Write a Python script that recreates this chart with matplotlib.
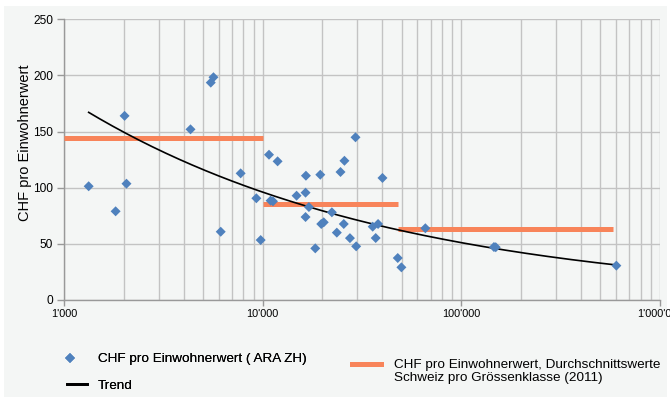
import numpy as np
import matplotlib
matplotlib.use("Agg")
import matplotlib.pyplot as plt
from matplotlib.lines import Line2D
from matplotlib.patches import Rectangle
from matplotlib.ticker import FuncFormatter, LogLocator

plt.rcParams['font.family'] = ['Liberation Sans', 'DejaVu Sans']

# Data: population equivalents (Einwohnerwerte) vs. CHF per EW
ew = [1331, 1819, 2018, 2063, 4333, 5480, 5654, 6150, 7748, 9295, 9772,
      10762, 10965, 11270, 11890, 14815, 16510, 16440, 17090, 16440, 18400,
      19500, 19720, 20300, 22300, 23620, 24650, 25800, 25600, 27500, 29330,
      29560, 35800, 38100, 37070, 40090, 47860, 49930, 65900, 145900, 149000,
      603000]
chf = [101.3, 79.0, 164.0, 103.6, 152.0, 193.6, 198.4, 60.8, 112.8, 90.6, 53.4,
       129.4, 88.5, 87.9, 123.5, 92.9, 110.7, 95.6, 82.8, 73.9, 46.0,
       111.6, 67.7, 69.2, 78.1, 60.0, 114.0, 124.0, 67.7, 55.1, 144.9,
       47.8, 65.3, 67.7, 55.2, 108.7, 37.4, 29.1, 63.9, 47.2, 47.0,
       30.6]

# Swiss averages per size class (2011)
class_start = [1000, 10000, 48000]
class_end = [10000, 48000, 580000]
class_value = [144.6, 85.8, 63.5]

# Power trend y = a * x^b
trend_a = 1204.0
trend_b = -0.2745

xticks = [1000, 10000, 100000, 1000000]
yticks = [0, 50, 100, 150, 200, 250]

label_pts = "CHF pro Einwohnerwert ( ARA ZH)"
label_trend = "Trend"
label_avg1 = "CHF pro Einwohnerwert, Durchschnittswerte"
label_avg2 = "Schweiz pro Grössenklasse (2011)"
ylabel = "CHF pro Einwohnerwert"

bg = '#f4f6f5'
blue = '#4f81bd'
orange = '#f8845a'
grid = '#c3c3c3'

W, H = 670, 403
fig = plt.figure(figsize=(W / 100, H / 100), dpi=100)
fig.patch.set_facecolor('white')
fig.patches.append(Rectangle((4 / W, 1 - 397 / H), 663 / W, 391 / H,
                             transform=fig.transFigure, facecolor=bg,
                             edgecolor='none', zorder=-5))

ax = fig.add_axes([64 / W, 1 - 300 / H, 596 / W, (300 - 19.3) / H])
ax.set_facecolor(bg)
ax.set_xscale('log')
ax.set_xlim(1000, 1000000)
ax.set_ylim(0, 250)

# orange class averages
for xs, xe, v in zip(class_start, class_end, class_value):
    ax.plot([xs, xe], [v, v], color=orange, lw=3.6, solid_capstyle='butt', zorder=3)

# power trend over the range of the data
xt = np.logspace(np.log10(min(ew)), np.log10(max(ew)), 200)
ax.plot(xt, trend_a * xt ** trend_b, color='black', lw=1.2, zorder=4)

ax.scatter(ew, chf, marker='D', s=26, color=blue, edgecolors='none', zorder=5)

ax.set_xticks(xticks)
ax.xaxis.set_minor_locator(LogLocator(base=10, subs=np.arange(2, 10), numticks=20))
ax.xaxis.set_major_formatter(FuncFormatter(lambda v, p: f"{int(round(v)):,}".replace(',', "'")))
ax.xaxis.set_minor_formatter(FuncFormatter(lambda v, p: ''))
ax.set_yticks(yticks)
ax.grid(True, which='both', axis='x', color=grid, lw=1)
ax.grid(True, which='major', axis='y', color=grid, lw=1)
ax.set_axisbelow(True)
for s in ['top', 'right']:
    ax.spines[s].set_visible(False)
for s in ['left', 'bottom']:
    ax.spines[s].set_color('#999999')
    ax.spines[s].set_linewidth(1)
ax.tick_params(axis='y', which='major', colors='#999999', labelcolor='black',
               length=5, width=1, labelsize=8.6, pad=3)
ax.tick_params(axis='x', which='major', colors='#999999', labelcolor='black',
               length=4, width=1, labelsize=7.8, pad=2.5)
ax.tick_params(axis='x', which='minor', length=0)
ax.set_ylabel(ylabel, fontsize=10.5)
ax.yaxis.set_label_coords(32 / W, 1 - 143 / H, transform=fig.transFigure)

fs = 9.7
h1 = Line2D([], [], marker='D', ls='none', color=blue, markersize=4.8, markeredgewidth=0)
leg1 = fig.legend([h1], [label_pts], loc='center left',
                  bbox_to_anchor=(66 / W, 1 - 359 / H), frameon=False,
                  fontsize=fs, handlelength=0.6, handletextpad=1.8,
                  borderpad=0, borderaxespad=0)
h2 = Line2D([], [], color='black', lw=2)
leg2 = fig.legend([h2], [label_trend], loc='center left',
                  bbox_to_anchor=(67 / W, 1 - 385.7 / H), frameon=False,
                  fontsize=fs, handlelength=1.48, handletextpad=0.82,
                  borderpad=0, borderaxespad=0)
h3 = Line2D([], [], color=orange, lw=3.6)
h4 = Line2D([], [], color='none')
leg3 = fig.legend([h3, h4], [label_avg1, label_avg2], loc='upper left',
                  bbox_to_anchor=(352 / W, 1 - 359 / H), frameon=False,
                  fontsize=fs, handlelength=2.15, handletextpad=0.96,
                  labelspacing=0.0, borderpad=0, borderaxespad=0)
fig.add_artist(leg1)
fig.add_artist(leg2)

fig.savefig('out.png', dpi=100, facecolor=fig.get_facecolor())
